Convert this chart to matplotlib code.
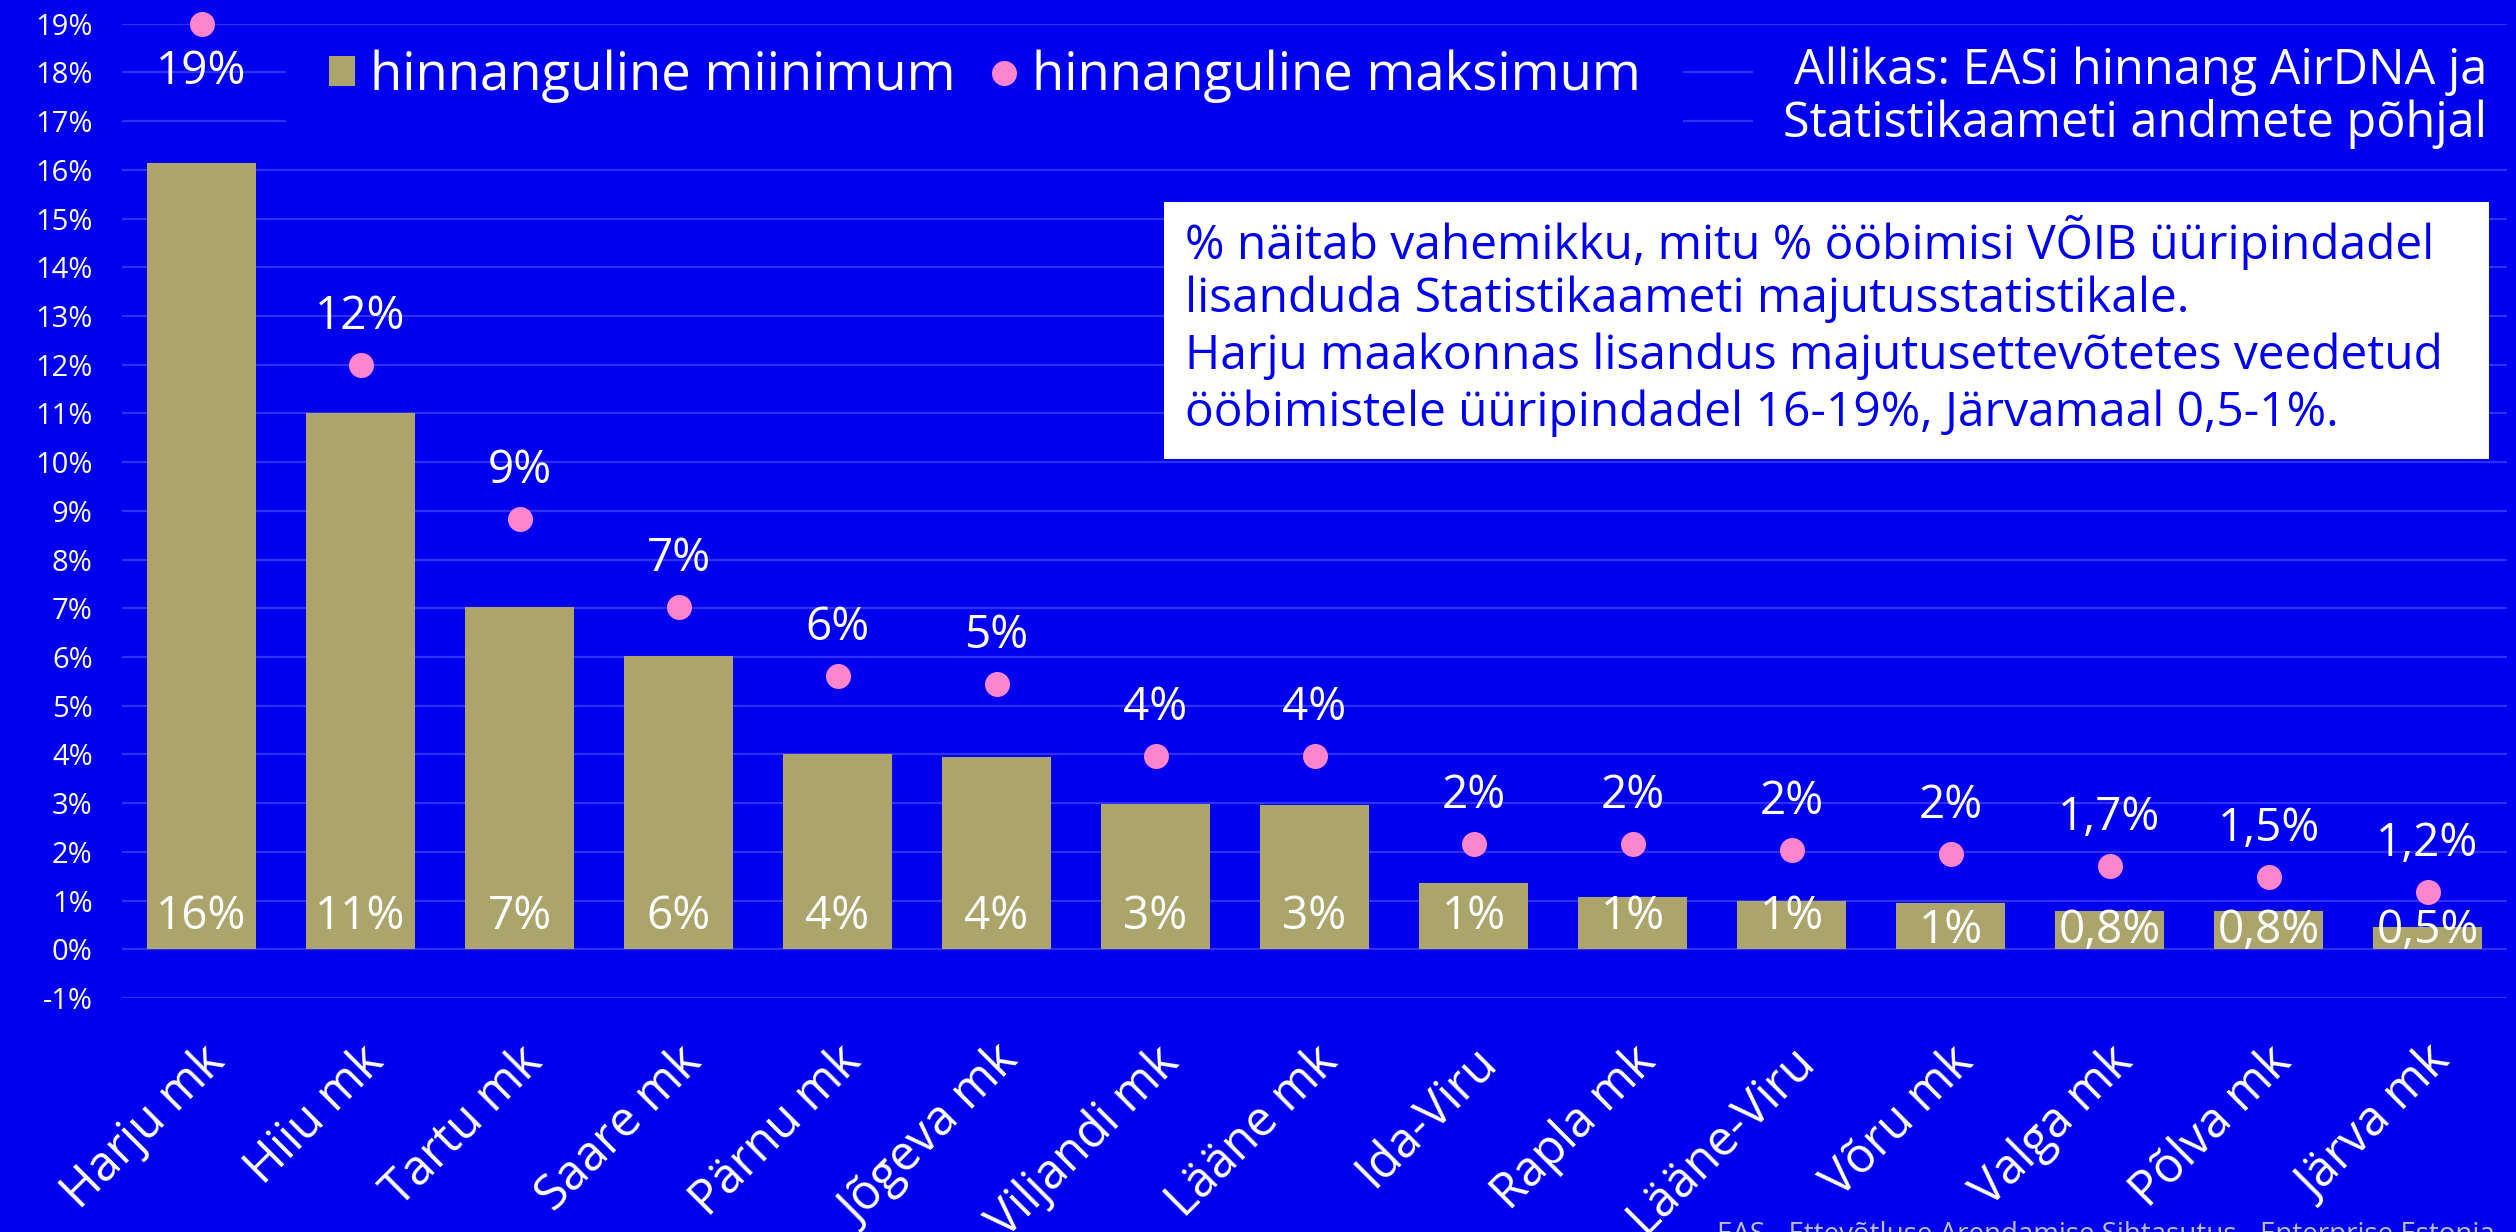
import numpy as np
import matplotlib
matplotlib.use("Agg")
import matplotlib.pyplot as plt
import matplotlib.transforms as mtransforms
from matplotlib.patches import Rectangle, Patch
from matplotlib.lines import Line2D

# ---- data -------------------------------------------------------------
categories = ["Harju mk", "Hiiu mk", "Tartu mk", "Saare mk", "Pärnu mk",
              "Jõgeva mk", "Viljandi mk", "Lääne mk", "Ida-Viru", "Rapla mk",
              "Lääne-Viru", "Võru mk", "Valga mk", "Põlva mk", "Järva mk"]
min_values = [16.15, 11.0, 7.03, 6.02, 4.0, 3.95, 2.98, 2.96, 1.36, 1.07,
              1.0, 0.96, 0.79, 0.78, 0.46]
max_values = [19.0, 12.0, 8.84, 7.03, 5.62, 5.44, 3.97, 3.96, 2.17, 2.16,
              2.03, 1.95, 1.71, 1.49, 1.17]
min_labels = ["16%", "11%", "7%", "6%", "4%", "4%", "3%", "3%", "1%", "1%",
              "1%", "1%", "0,8%", "0,8%", "0,5%"]
max_labels = ["19%", "12%", "9%", "7%", "6%", "5%", "4%", "4%", "2%", "2%",
              "2%", "2%", "1,7%", "1,5%", "1,2%"]
y_ticks = list(range(-1, 20))
y_tick_labels = [f"{t}%" for t in y_ticks]

legend_min = "hinnanguline miinimum"
legend_max = "hinnanguline maksimum"
source_text = "Allikas: EASi hinnang AirDNA ja\nStatistikaameti andmete põhjal"
note_lines = [
    "% näitab vahemikku, mitu % ööbimisi VÕIB üüripindadel",
    "lisanduda Statistikaameti majutusstatistikale.",
    "Harju maakonnas lisandus majutusettevõtetes veedetud",
    "ööbimistele üüripindadel 16-19%, Järvamaal 0,5-1%.",
]
footer_text = "EAS - Ettevõtluse Arendamise Sihtasutus - Enterprise Estonia"

# ---- style ------------------------------------------------------------
BLUE = "#0000EE"
GRID = "#2F2FFF"
OLIVE = "#ABA56C"
PINK = "#FF85CE"
WHITE = "#FFFFFF"
plt.rcParams["font.family"] = ["Open Sans", "DejaVu Sans"]

W, H, DPI = 2516, 1232, 100
fig = plt.figure(figsize=(W / DPI, H / DPI), dpi=DPI, facecolor=BLUE)


def fx(px):
    return px / W


def fy(py):
    return 1 - py / H


ax = fig.add_axes([fx(122), fy(998), fx(2507) - fx(122), fy(23.7) - fy(998)])
ax.set_facecolor(BLUE)

x = np.arange(len(categories))
ax.bar(x, min_values, width=0.69, color=OLIVE, zorder=2)
ax.scatter(x, max_values, s=18 ** 2, color=PINK, linewidths=0, zorder=3,
           clip_on=False)

ax.set_xlim(-0.5, len(categories) - 0.5)
ax.set_ylim(-1, 19)
ax.set_yticks(y_ticks)
ax.set_yticklabels(y_tick_labels)
ax.set_xticks([])
ax.yaxis.grid(True, color=GRID, linewidth=1.6)
ax.set_axisbelow(True)
ax.tick_params(axis="y", length=0, pad=21, labelsize=21, labelcolor=WHITE)
for sp in ax.spines.values():
    sp.set_visible(False)

# category labels, rotated
for i, cat in enumerate(categories):
    tr = mtransforms.offset_copy(ax.transData, fig=fig, x=-1, y=-28,
                                 units="points")
    ax.text(i, -1, cat, transform=tr, rotation=45, rotation_mode="anchor",
            ha="right", va="top", fontsize=35, color=WHITE, clip_on=False)

# value labels for bars (at the base)
for i, (v, lab) in enumerate(zip(min_values, min_labels)):
    dy = 14.5 if v >= 1 else 4.5
    tr = mtransforms.offset_copy(ax.transData, fig=fig, x=0, y=dy,
                                 units="points")
    ax.text(i, 0, lab, transform=tr, ha="center", va="baseline",
            fontsize=33, color=WHITE, zorder=4)

# value labels for dots
for i, (v, lab) in enumerate(zip(max_values, max_labels)):
    dy = -34.5 if v >= 18.5 else 34.5
    tr = mtransforms.offset_copy(ax.transData, fig=fig, x=0, y=dy,
                                 units="points")
    ax.text(i, v, lab, transform=tr, ha="center", va="center",
            fontsize=33, color=WHITE, zorder=4, clip_on=False)

# blue backing behind legend and source note
for (x0, y0, x1, y1) in [(286, 38, 1683, 150), (1753, 38, 2516, 150)]:
    ax.add_patch(Rectangle((fx(x0), fy(y1)), fx(x1) - fx(x0), fy(y0) - fy(y1),
                           transform=fig.transFigure, facecolor=BLUE,
                           edgecolor="none", zorder=1, clip_on=False))

handles = [
    Patch(facecolor=OLIVE, edgecolor="none", label=legend_min),
    Line2D([], [], linestyle="none", marker="o", markersize=18,
           markerfacecolor=PINK, markeredgewidth=0, label=legend_max),
]
leg = ax.legend(handles=handles, loc="center left", ncol=2,
                bbox_to_anchor=(fx(329), fy(76)), bbox_transform=fig.transFigure,
                frameon=False, fontsize=38, labelcolor=WHITE,
                handlelength=0.5, handleheight=0.5, handletextpad=0.27,
                columnspacing=0.68, borderpad=0, borderaxespad=0)
leg.set_zorder(6)

fig.text(fx(2487), fy(98), source_text, ha="right", va="center",
         multialignment="right", fontsize=35, color=WHITE, linespacing=1.08)

# white note box
ax.add_patch(Rectangle((fx(1164), fy(459)), fx(2489) - fx(1164),
                       fy(202) - fy(459), transform=fig.transFigure,
                       facecolor=WHITE, edgecolor="none", zorder=7,
                       clip_on=False))
for k, line in enumerate(note_lines):
    fig.text(fx(1185), fy(242 + 57 * k), line, ha="left", va="center",
             fontsize=34.5, color=BLUE, zorder=8)

fig.text(fx(1717), fy(1221), footer_text, ha="left", va="top",
         fontsize=20, color="#BEBEC8")

fig.savefig("out.png", dpi=DPI, facecolor=BLUE)
